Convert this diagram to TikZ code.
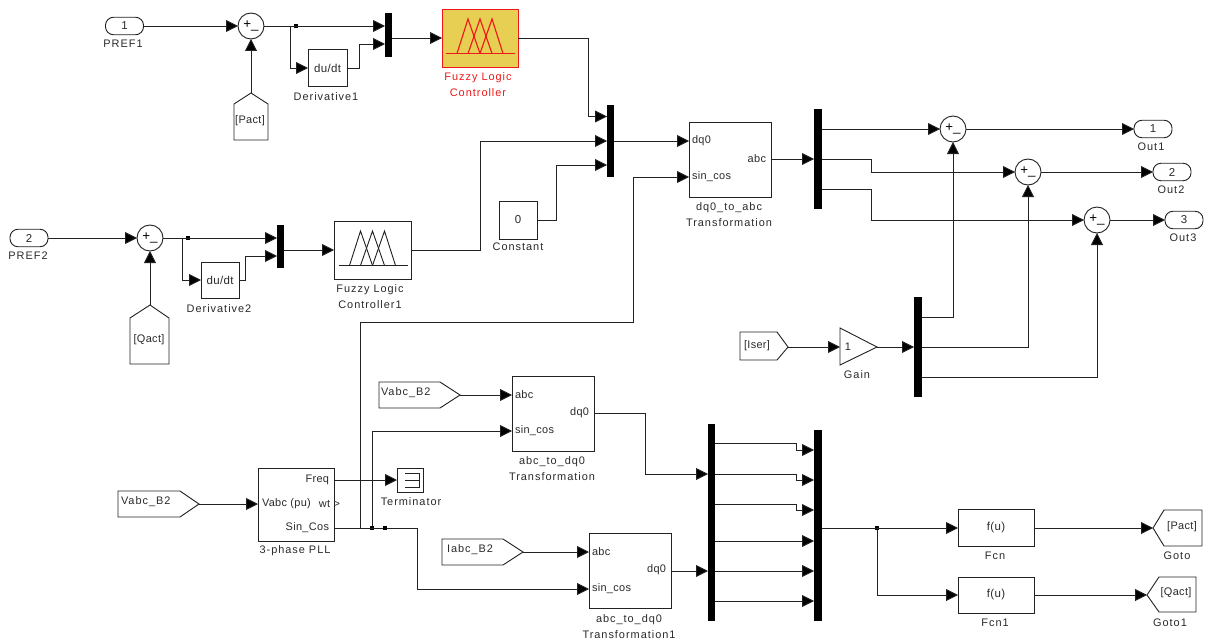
\documentclass[tikz,border=0pt]{standalone}
\usepackage{fontspec}
\setmainfont{Liberation Sans}
\newfontfamily\lblfont[LetterSpace=9]{Liberation Sans}
\newfontfamily\inrfont[LetterSpace=3]{Liberation Sans}
\usetikzlibrary{arrows.meta}
\definecolor{ink}{HTML}{222222}
\definecolor{lab}{HTML}{2A2A2A}
\definecolor{fuzzy}{HTML}{E6CF52}
\definecolor{fred}{HTML}{F01818}
\tikzset{
  wire/.style={draw=ink,line width=0.68pt},
  arr/.style={wire,-{Triangle[length=9pt,width=9pt,fill=black]}},
  blk/.style 2 args={draw=ink,line width=0.68pt,fill=white,inner sep=0pt,outer sep=0pt,minimum width=#1*0.75pt,minimum height=#2*0.75pt,font=\fontsize{8.6pt}{9pt}\inrfont\color{lab}},
  portb/.style={blk={38}{17.5},rounded corners=6pt},
  muxb/.style 2 args={fill=black,inner sep=0pt,outer sep=0pt,minimum width=#1*0.75pt,minimum height=#2*0.75pt},
  sumb/.style={circle,draw=ink,line width=0.68pt,fill=white,inner sep=0pt,outer sep=0pt,minimum size=19.5pt,font=\fontsize{10pt}{10pt}\selectfont\color{black}},
  lbl/.style={inner sep=0pt,outer sep=0pt,align=center,font=\fontsize{8.2pt}{12pt}\lblfont\color{lab}},
  lblr/.style={lbl,font=\fontsize{8.2pt}{12pt}\lblfont\color{fred}},
  inr/.style={inner sep=0pt,outer sep=0pt,font=\fontsize{8.2pt}{9pt}\inrfont\color{lab}},
  inw/.style={inner sep=0pt,outer sep=0pt,font=\fontsize{8.2pt}{9pt}\lblfont\color{lab}},
  dot/.style={fill=black,inner sep=0pt,outer sep=0pt,minimum size=2.6pt},
  tag/.style={wire,fill=white,line join=miter},
}
\newcommand{\fuzzyicon}[4]{% center x, center y, colour, width
  \begin{scope}[shift={(#1,#2)},draw=#3,line width=#4]
    \draw (-34,15.5) -- (35,15.5);
    \draw (-23,15.5) -- (-12,-19) -- (0,15.5);
    \draw (-12,15.5) -- (0,-19) -- (12,15.5);
    \draw (0,15.5) -- (12,-19) -- (23,15.5);
  \end{scope}}
\begin{document}
\begin{tikzpicture}[x=0.75pt,y=-0.75pt]
\useasboundingbox[fill=white] (0,0) rectangle (1212,642);

% ---- top-left chain
\node[portb] (pref1) at (124.5,26) {1};
\node[lbl] (pref1l) at (123,44) {PREF1};
\node[sumb] (s1) at (251,26) {+\_};
\draw[tag] (234,140) -- (234,104) -- (251,93) -- (268,104) -- (268,140) -- cycle;
\coordinate (pact) at (251,93);
\node[inr] (pactt) at (250,121) {[Pact]};
\node[dot] (d1) at (296,26) {};
\node[blk={39}{37}] (der1) at (327.5,68) {du/dt};
\node[lbl] (der1l) at (326,97) {Derivative1};
\node[muxb={7}{44}] (m1) at (388.5,35) {};
\coordinate (m1a) at (385,26);
\coordinate (m1b) at (385,44);
\coordinate (m1o) at (392,38);
\node[blk={76}{58},draw=fred,fill=fuzzy] (flc) at (480,38) {};
\fuzzyicon{480}{38}{fred}{0.85pt}
\node[lblr] (flcl) at (478,85) {Fuzzy Logic\\Controller};

% ---- second chain
\node[portb] (pref2) at (29,238) {2};
\node[lbl] (pref2l) at (28,256) {PREF2};
\node[sumb] (s2) at (150,238) {+\_};
\draw[tag] (130,364) -- (130,318) -- (150,305) -- (169,318) -- (169,364) -- cycle;
\coordinate (qact) at (150,305);
\node[inr] (qactt) at (149,340) {[Qact]};
\node[dot] (d2) at (188,238) {};
\node[blk={38}{36}] (der2) at (220,280) {du/dt};
\node[lbl] (der2l) at (219,309) {Derivative2};
\node[muxb={7}{43}] (m2) at (280.5,246.5) {};
\coordinate (m2a) at (277,238);
\coordinate (m2b) at (277,256);
\coordinate (m2o) at (284,250);
\node[blk={77}{58}] (flc1) at (372.5,250) {};
\fuzzyicon{372.5}{250}{ink}{0.68pt}
\node[lbl] (flc1l) at (370,297) {Fuzzy Logic\\Controller1};

% ---- constant and central mux
\node[blk={38}{38}] (const) at (518,220) {0};
\node[lbl] (constl) at (518,247) {Constant};
\node[muxb={7}{72}] (m3) at (610.5,141) {};
\coordinate (m3a) at (607,116.5);
\coordinate (m3b) at (607,141);
\coordinate (m3c) at (607,165);
\coordinate (m3o) at (614,141);

% ---- dq0 to abc
\node[blk={82}{75}] (dqabc) at (730,159.5) {};
\coordinate (dqa) at (689,141);
\coordinate (dqb) at (689,177);
\coordinate (dqo) at (771,159);
\node[inr,anchor=west] (dqat) at (692,141) {dq0};
\node[inr,anchor=west] (dqbt) at (692,177) {sin\_cos};
\node[inr,anchor=east] (dqot) at (766,159) {abc};
\node[lbl] (dqabcl) at (729,215) {dq0\_to\_abc\\Transformation};

\node[muxb={8}{100}] (m4) at (818,159) {};
\coordinate (m4i) at (814,159);
\coordinate (m4a) at (822,129);
\coordinate (m4b) at (822,159);
\coordinate (m4c) at (822,189);

\node[sumb] (sa) at (953,129) {+\_};
\node[sumb] (sb) at (1028,172) {+\_};
\node[sumb] (sc) at (1097,220) {+\_};
\node[portb] (o1) at (1153,129) {1};
\node[portb] (o2) at (1172,172) {2};
\node[portb] (o3) at (1184,220) {3};
\node[lbl] (o1l) at (1151,147) {Out1};
\node[lbl] (o2l) at (1171,189.5) {Out2};
\node[lbl] (o3l) at (1183,238) {Out3};

% ---- Iser / gain
\draw[tag] (740,332) -- (777,332) -- (788,347) -- (777,360) -- (740,360) -- cycle;
\coordinate (iser) at (788,347);
\node[inr] (isert) at (757,346) {[Iser]};
\draw[tag] (840,328) -- (877,347) -- (840,365) -- cycle;
\coordinate (gi) at (840,347);
\coordinate (go) at (877,347);
\node[inr] (gt) at (848,347) {1};
\node[lbl] (gl) at (857,375) {Gain};
\node[muxb={8}{100}] (m5) at (918,347) {};
\coordinate (m5i) at (914,347);
\coordinate (m5a) at (922,317);
\coordinate (m5b) at (922,347);
\coordinate (m5c) at (922,377);

% ---- PLL
\draw[tag] (118,491) -- (180,491) -- (199,504) -- (180,517) -- (118,517) -- cycle;
\coordinate (vl) at (199,504);
\node[inw,anchor=west] (vlt) at (121,502) {Vabc\_B2};
\node[blk={76}{73}] (pll) at (296,504.5) {};
\coordinate (plla) at (258,504);
\coordinate (pllf) at (334,480);
\coordinate (plls) at (334,528);
\node[inr,anchor=east] (pllft) at (329,480) {Freq};
\node[inr,anchor=west] (pllvt) at (262,504) {Vabc (pu)};
\node[inr,anchor=east] (pllwt) at (340,504) {wt >};
\node[inr,anchor=east] (pllst) at (329,528) {Sin\_Cos};
\node[lbl] (plll) at (295,551) {3-phase PLL};
\node[blk={26}{24}] (term) at (410,480) {};
\draw[wire] (405,473) -- (419,473) -- (419,487) -- (405,487) (405,480) -- (419,480);
\node[lbl] (terml) at (411,502) {Terminator};
\node[dot] (d3) at (372,528) {};
\node[dot] (d4) at (385,528) {};

% ---- abc to dq0
\draw[tag] (379,382) -- (440,382) -- (460,395) -- (440,408) -- (379,408) -- cycle;
\coordinate (vu) at (460,395);
\node[inw,anchor=west] (vut) at (381,393) {Vabc\_B2};
\node[blk={82}{75}] (ab) at (553,413.5) {};
\coordinate (aba) at (512,395);
\coordinate (abb) at (512,431);
\coordinate (abo) at (594,413);
\node[inr,anchor=west] (abat) at (515,395) {abc};
\node[inr,anchor=west] (abbt) at (515,431) {sin\_cos};
\node[inr,anchor=east] (abot) at (589,413) {dq0};
\node[lbl] (abl) at (552,469) {abc\_to\_dq0\\Transformation};

\draw[tag] (442,539) -- (503,539) -- (523,552) -- (503,565) -- (442,565) -- cycle;
\coordinate (iu) at (523,552);
\node[inw,anchor=west] (iut) at (447,550) {Iabc\_B2};
\node[blk={82}{75}] (ac) at (630,570.5) {};
\coordinate (aca) at (589,552);
\coordinate (acb) at (589,589);
\coordinate (aco) at (671,571);
\node[inr,anchor=west] (acat) at (592,552) {abc};
\node[inr,anchor=west] (acbt) at (592,589) {sin\_cos};
\node[inr,anchor=east] (acot) at (666,570) {dq0};
\node[lbl] (acl) at (629,626.5) {abc\_to\_dq0\\Transformation1};

% ---- big muxes
\node[muxb={7}{197}] (m6) at (711.5,522.5) {};
\node[muxb={8}{191}] (m7) at (818,525.5) {};
\coordinate (m6i1) at (708,474);
\coordinate (m6i2) at (708,571);
\coordinate (q1) at (715,443);\coordinate (r1) at (814,450);
\coordinate (q2) at (715,474);\coordinate (r2) at (814,480);
\coordinate (q3) at (715,504);\coordinate (r3) at (814,510);
\coordinate (q4) at (715,541);\coordinate (r4) at (814,541);
\coordinate (q5) at (715,571);\coordinate (r5) at (814,571);
\coordinate (q6) at (715,601);\coordinate (r6) at (814,601);
\coordinate (m7o) at (822,528);
\node[dot] (d5) at (877,528) {};
\node[blk={76}{37}] (fcn) at (996,528) {f(u)};
\node[lbl] (fcnl) at (995,556) {Fcn};
\node[blk={76}{36}] (fcn1) at (996,595) {f(u)};
\node[lbl] (fcn1l) at (995,623) {Fcn1};
\draw[tag] (1153,528) -- (1164,510) -- (1202,510) -- (1202,546) -- (1164,546) -- cycle;
\coordinate (gt1) at (1153,528);
\node[inr] (gt1t) at (1182,527) {[Pact]};
\node[lbl] (gt1l) at (1177,556) {Goto};
\draw[tag] (1147,595) -- (1159,577) -- (1196,577) -- (1196,612) -- (1159,612) -- cycle;
\coordinate (gt2) at (1147,595);
\node[inr] (gt2t) at (1176,593) {[Qact]};
\node[lbl] (gt2l) at (1170,623) {Goto1};

% ---- connectors: top chain
\draw[arr] (pref1.east) -- (s1.west);
\draw[arr] (pact) -- (s1.south);
\draw[arr] (s1.east) -- (m1a);
\draw[arr] (s1.east) -- (290,26) -- (290,68) -- (der1.west);
\draw[arr] (der1.east) -- (359,68) -- (359,44) -- (m1b);
\draw[arr] (m1o) -- (flc.west);
\draw[arr] (flc.east) -- (588,38) -- (588,116.5) -- (m3a);
% second chain
\draw[arr] (pref2.east) -- (s2.west);
\draw[arr] (qact) -- (s2.south);
\draw[arr] (s2.east) -- (m2a);
\draw[arr] (s2.east) -- (182,238) -- (182,280) -- (der2.west);
\draw[arr] (der2.east) -- (245,280) -- (245,256) -- (m2b);
\draw[arr] (m2o) -- (flc1.west);
\draw[arr] (flc1.east) -- (480,250) -- (480,141) -- (m3b);
\draw[arr] (const.east) -- (556,220) -- (556,165) -- (m3c);
% dq0/abc
\draw[arr] (m3o) -- (dqa);
\draw[arr] (dqo) -- (m4i);
\draw[arr] (m4a) -- (sa.west);
\draw[arr] (m4b) -- (871,159) -- (871,172) -- (sb.west);
\draw[arr] (m4c) -- (871,189) -- (871,220) -- (sc.west);
\draw[arr] (sa.east) -- (o1.west);
\draw[arr] (sb.east) -- (o2.west);
\draw[arr] (sc.east) -- (o3.west);
% gain
\draw[arr] (iser) -- (gi);
\draw[arr] (go) -- (m5i);
\draw[arr] (m5a) -- (953,317) -- (sa.south);
\draw[arr] (m5b) -- (1028,347) -- (sb.south);
\draw[arr] (m5c) -- (1097,377) -- (sc.south);
% PLL
\draw[arr] (vl) -- (plla);
\draw[arr] (pllf) -- (term.west);
\draw[arr] (plls) -- (360,528) -- (360,322.5) -- (633,322.5) -- (633,177) -- (dqb);
\draw[wire] (plls) -- (d4);
\draw[arr] (d3) -- (372,431) -- (abb);
\draw[arr] (d4) -- (417,528) -- (417,589) -- (acb);
\draw[arr] (vu) -- (aba);
\draw[arr] (iu) -- (aca);
% mux block
\draw[arr] (abo) -- (645,413) -- (645,474) -- (m6i1);
\draw[arr] (aco) -- (m6i2);
\draw[arr] (q1) -- (796,443) -- (796,450) -- (r1);
\draw[arr] (q2) -- (796,474) -- (796,480) -- (r2);
\draw[arr] (q3) -- (796,504) -- (796,510) -- (r3);
\draw[arr] (q4) -- (r4);
\draw[arr] (q5) -- (r5);
\draw[arr] (q6) -- (r6);
\draw[arr] (m7o) -- (fcn.west);
\draw[arr] (d5) -- (877,595) -- (fcn1.west);
\draw[arr] (fcn.east) -- (gt1);
\draw[arr] (fcn1.east) -- (gt2);
\end{tikzpicture}
\end{document}
